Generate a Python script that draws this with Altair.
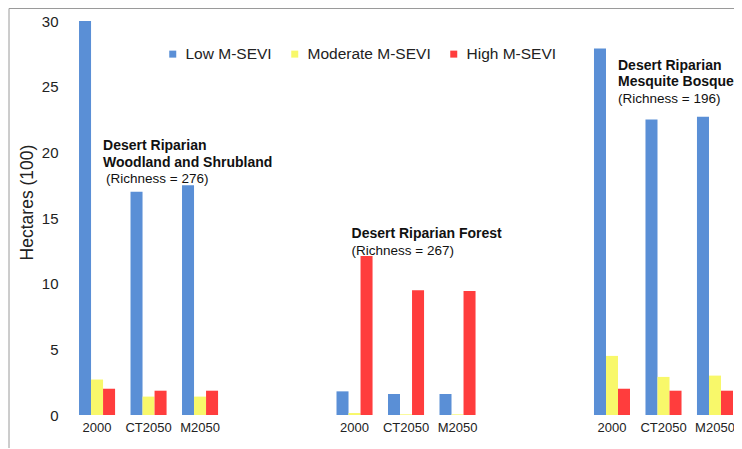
import altair as alt
import pandas as pd

# ---- data ----
groups = ["A", "B", "C"]
scenarios = ["2000", "CT2050", "M2050"]
series = ["Low M-SEVI", "Moderate M-SEVI", "High M-SEVI"]
colors = ["#5A8FD6", "#F8F86A", "#FF3D3D"]

low_vals = {"A": [30.0, 17.0, 17.5], "B": [1.8, 1.6, 1.6], "C": [27.9, 22.5, 22.7]}
mod_vals = {"A": [2.7, 1.4, 1.4], "B": [0.15, 0.05, 0.05], "C": [4.5, 2.9, 3.0]}
high_vals = {"A": [2.0, 1.85, 1.85], "B": [12.1, 9.5, 9.45], "C": [2.0, 1.85, 1.85]}

# slot order on x axis (with empty slots between habitat groups)
slot_domain = ["A|2000", "A|CT2050", "A|M2050", " 1", " 2",
               "B|2000", "B|CT2050", "B|M2050", " 3", " 4",
               "C|2000", "C|CT2050", "C|M2050"]

# annotation lines: y (data units) and text
ann_A_bold = ["Desert Riparian", "Woodland and Shrubland"]
ann_A_bold_y = [20.18, 18.9]
ann_A_norm = ["(Richness = 276)"]
ann_A_norm_y = [17.64]
ann_B_bold = ["Desert Riparian Forest"]
ann_B_bold_y = [13.45]
ann_B_norm = ["(Richness = 267)"]
ann_B_norm_y = [12.18]
ann_C_bold = ["Desert Riparian", "Mesquite Bosque"]
ann_C_bold_y = [26.27, 25.05]
ann_C_norm = ["(Richness = 196)"]
ann_C_norm_y = [23.78]

rows = []
for g in groups:
    for i, sc in enumerate(scenarios):
        for s, vals in zip(series, [low_vals, mod_vals, high_vals]):
            rows.append({"slot": f"{g}|{sc}", "series": s, "value": vals[g][i]})
df = pd.DataFrame(rows)

x_scale = alt.Scale(domain=slot_domain, paddingInner=0.3, paddingOuter=0.136, align=0.93)
y_scale = alt.Scale(domain=[0, 30], nice=False)

bars = alt.Chart(df).mark_bar().encode(
    x=alt.X("slot:N", scale=x_scale, sort=slot_domain,
            axis=alt.Axis(title=None, labelAngle=0, domain=False, ticks=False,
                          labelFontSize=13, labelPadding=6, labelColor="#222",
                          labelExpr="indexof(datum.value,'|')>=0 ? split(datum.value,'|')[1] : ''")),
    xOffset=alt.XOffset("series:N", scale=alt.Scale(domain=series, paddingInner=0, paddingOuter=0)),
    y=alt.Y("value:Q", scale=y_scale,
            axis=alt.Axis(title="Hectares (100)", values=[0, 5, 10, 15, 20, 25, 30],
                          domain=False, ticks=False, grid=False, labelFontSize=15,
                          labelPadding=8, labelColor="#222", titleFontSize=17.5,
                          titleFontWeight="normal", titleColor="#222", titlePadding=5,
                          titleY=181)),
    color=alt.Color("series:N", scale=alt.Scale(domain=series, range=colors),
                    legend=alt.Legend(title=None, orient="none", legendX=99, legendY=25,
                                      direction="horizontal", symbolType="square",
                                      symbolSize=49, symbolStrokeWidth=0, labelFontSize=15.5,
                                      labelColor="#222", columnPadding=15, padding=0,
                                      labelOffset=5)),
)


def ann(slot, texts, ys, bold, dx):
    d = pd.DataFrame({"slot": [slot] * len(texts), "text": texts, "y": ys})
    return alt.Chart(d).mark_text(
        align="left", baseline="alphabetic", dx=dx,
        fontSize=14 if bold else 13.5, fontWeight="bold" if bold else "normal", color="#111"
    ).encode(
        x=alt.X("slot:N", scale=x_scale, sort=slot_domain),
        y=alt.Y("y:Q", scale=y_scale),
        text="text:N",
    )


layers = [bars,
          ann("A|2000", ann_A_bold, ann_A_bold_y, True, 6),
          ann("A|2000", ann_A_norm, ann_A_norm_y, False, 9),
          ann("B|2000", ann_B_bold, ann_B_bold_y, True, -3),
          ann("B|2000", ann_B_norm, ann_B_norm_y, False, -3),
          ann("C|2000", ann_C_bold, ann_C_bold_y, True, 6),
          ann("C|2000", ann_C_norm, ann_C_norm_y, False, 6)]

frame_top = alt.Chart(alt.Data(values=[{}])).mark_rule(color="#9a9a9a", strokeWidth=1).encode(
    x=alt.value(-57), x2=alt.value(700), y=alt.value(-12.5))
frame_left = alt.Chart(alt.Data(values=[{}])).mark_rule(color="#9a9a9a", strokeWidth=1).encode(
    x=alt.value(-57), y=alt.value(-12.5), y2=alt.value(450))

chart = alt.layer(*layers, frame_top, frame_left).properties(
    width=668, height=394,
    autosize=alt.AutoSizeParams(type="none"),
    padding={"left": 58, "top": 13, "right": 0, "bottom": 33},
).configure(font="Liberation Sans").configure_view(stroke=None)

chart.save("out.html", embed_options={"renderer": "svg", "actions": False})
